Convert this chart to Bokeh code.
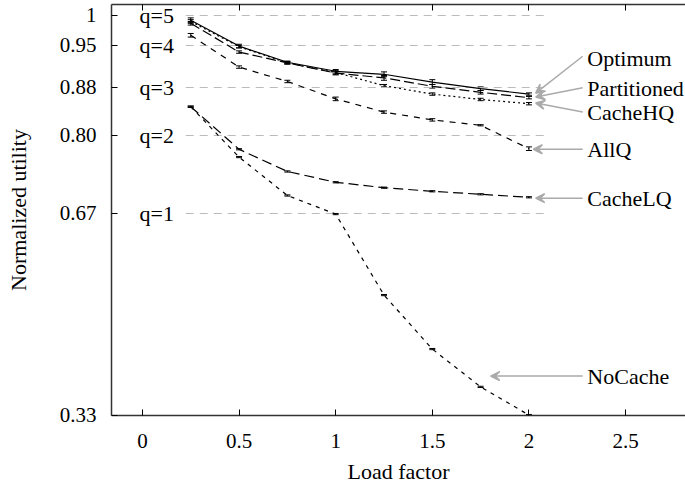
from bokeh.plotting import figure
from bokeh.models import (Range1d, FixedTicker, LinearAxis, ColumnDataSource, Whisker,
                          TeeHead, Arrow, VeeHead)
from bokeh.core.properties import value
from bokeh.embed import file_html
from bokeh.resources import INLINE

# ---- data ----
load = [0.25, 0.5, 0.75, 1.0, 1.25, 1.5, 1.75, 2.0]
optimum = [0.992, 0.949, 0.922, 0.907, 0.902, 0.889, 0.878, 0.869]
partitioned = [0.987, 0.939, 0.921, 0.904, 0.896, 0.882, 0.872, 0.863]
cachehq = [0.990, 0.948, 0.921, 0.905, 0.883, 0.869, 0.860, 0.853]
allq = [0.967, 0.914, 0.890, 0.861, 0.839, 0.826, 0.817, 0.778]
cachelq = [0.848, 0.777, 0.740, 0.722, 0.713, 0.707, 0.702, 0.697]
nocache = [0.848, 0.764, 0.700, 0.669, 0.534, 0.444, 0.381, 0.334]

err_optimum = [0.004, 0.003, 0.002, 0.003, 0.004, 0.004, 0.003, 0.002]
err_partitioned = [0.003, 0.002, 0.002, 0.003, 0.004, 0.003, 0.003, 0.002]
err_cachehq = [0.003, 0.002, 0.002, 0.003, 0.002, 0.002, 0.002, 0.002]
err_allq = [0.003, 0.002, 0.002, 0.003, 0.002, 0.002, 0.001, 0.003]
err_cachelq = [0.001, 0.001, 0.001, 0.001, 0.001, 0.001, 0.001, 0.001]
err_nocache = [0.001, 0.001, 0.001, 0.001, 0.001, 0.001, 0.001, 0.001]

q_levels = [0.67, 0.80, 0.88, 0.95, 1.0]
q_labels = ["q=1", "q=2", "q=3", "q=4", "q=5"]

y_ticks = [0.3334, 0.67, 0.80, 0.88, 0.95, 1.0]
y_tick_labels = ["0.33", "0.67", "0.80", "0.88", "0.95", "1"]
x_ticks = [0, 0.5, 1, 1.5, 2, 2.5]
x_tick_labels = ["0", "0.5", "1", "1.5", "2", "2.5"]

series = [
    ("Optimum", optimum, err_optimum, "solid", 2.302, 0.928, 2.278, 0.932, 2.035, 0.8705),
    ("Partitioned", partitioned, err_partitioned, "10 4", 2.302, 0.878, 2.278, 0.8795, 2.035, 0.864),
    ("CacheHQ", cachehq, err_cachehq, "2 3", 2.302, 0.839, 2.278, 0.839, 2.035, 0.854),
    ("AllQ", allq, err_allq, "6 6", 2.302, 0.777, 2.278, 0.777, 2.023, 0.777),
    ("CacheLQ", cachelq, err_cachelq, "10 5", 2.302, 0.6955, 2.278, 0.6955, 2.035, 0.6955),
    ("NoCache", nocache, err_nocache, "4 5", 2.302, 0.399, 2.278, 0.399, 1.802, 0.399),
]

FONT = "'Liberation Serif', 'Times New Roman', serif"

p = figure(width=685, height=488, output_backend="svg", toolbar_location=None,
           x_range=Range1d(-0.160, 2.810), y_range=Range1d(0.3333, 1.0183),
           min_border_left=111, min_border_right=0, min_border_top=4, min_border_bottom=73)
p.outline_line_color = None
p.xgrid.visible = False
p.ygrid.visible = False
p.background_fill_color = "white"
p.border_fill_color = "white"

# axes
xa = p.xaxis[0]
xa.ticker = FixedTicker(ticks=x_ticks)
xa.major_label_overrides = {t: l for t, l in zip(x_ticks, x_tick_labels)}
ya = p.yaxis[0]
ya.ticker = FixedTicker(ticks=y_ticks)
ya.major_label_overrides = {t: l for t, l in zip(y_ticks, y_tick_labels)}
for ax in (xa, ya):
    ax.axis_line_color = "#333333"
    ax.axis_line_width = 1.5
    ax.major_tick_in = 6
    ax.major_tick_out = 0
    ax.major_tick_line_color = "black"
    ax.minor_tick_line_color = None
    ax.major_label_text_font = FONT
    ax.major_label_text_font_size = "21px"
    ax.major_label_text_color = "black"
    ax.axis_label_text_font = FONT
    ax.axis_label_text_font_size = "22px"
    ax.axis_label_text_font_style = "normal"
    ax.axis_label_text_color = "black"
xa.axis_label = "Load factor"
xa.major_label_standoff = 18
xa.axis_label_standoff = 8
ya.axis_label = "Normalized utility"
ya.major_label_standoff = 15
ya.axis_label_standoff = 26

top = LinearAxis(ticker=FixedTicker(ticks=x_ticks))
top.major_label_overrides = {t: "" for t in x_ticks}
top.major_label_text_font_size = "1px"
top.major_label_standoff = 0
top.axis_line_color = "#333333"
top.axis_line_width = 1.5
top.major_tick_in = 6
top.major_tick_out = 0
top.minor_tick_line_color = None
p.add_layout(top, "above")

# q-level reference lines
p.segment(x0=[0.224] * len(q_levels), x1=[2.086] * len(q_levels), y0=q_levels, y1=q_levels,
          line_color="#bbbbbb", line_width=1.2, line_dash="8 6")
p.text(x=[-0.015] * len(q_levels), y=q_levels, text=q_labels, text_font=value(FONT),
       text_font_size="22px", text_baseline="middle", text_align="left", text_color="black")

# series
for name, ys, err, dash, tx, ty, ax0, ay0, ax1, ay1 in series:
    src = ColumnDataSource(dict(x=load, y=ys,
                                lo=[a - e for a, e in zip(ys, err)],
                                hi=[a + e for a, e in zip(ys, err)]))
    p.line("x", "y", source=src, line_color="black", line_width=1.2, line_dash=dash)
    p.add_layout(Whisker(source=src, base="x", upper="hi", lower="lo", dimension="height",
                         line_color="black", line_width=1,
                         upper_head=TeeHead(size=6, line_color="black", line_width=1),
                         lower_head=TeeHead(size=6, line_color="black", line_width=1)))
    p.text(x=[tx], y=[ty], text=[name], text_font=value(FONT), text_font_size="22px",
           text_baseline="middle", text_align="left", text_color="black")
    p.add_layout(Arrow(x_start=ax0, y_start=ay0, x_end=ax1, y_end=ay1,
                       line_color="#aaaaaa", line_width=1.5,
                       end=VeeHead(size=9, line_color="#aaaaaa", fill_color="#aaaaaa",
                                   line_width=1.5)))

open("out.html", "w").write(file_html(p, INLINE))
